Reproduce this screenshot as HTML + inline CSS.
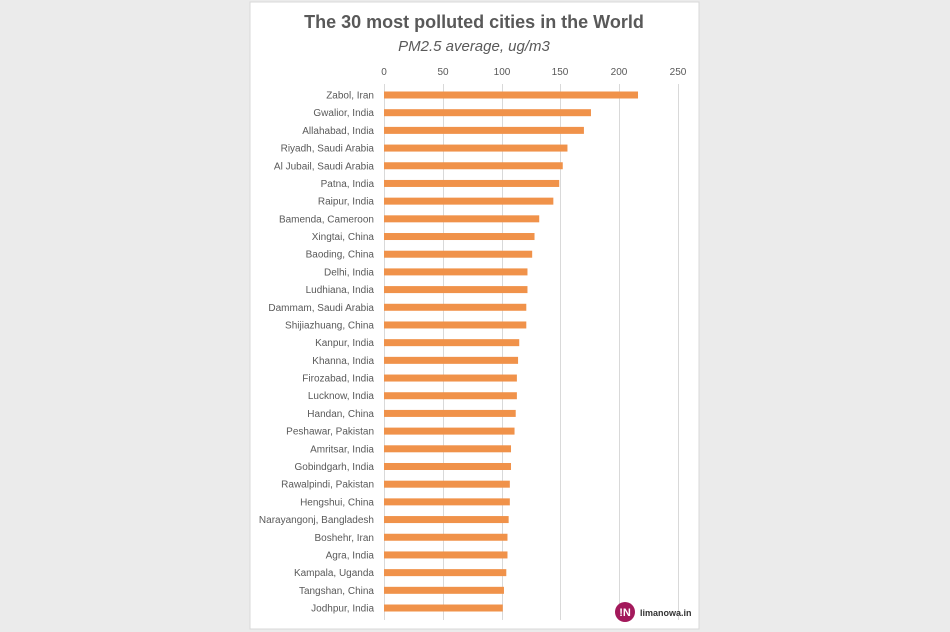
<!DOCTYPE html>
<html><head><style>
html,body{margin:0;padding:0;background:#ebebeb;width:950px;height:632px;overflow:hidden;font-family:"Liberation Sans",sans-serif}
</style></head><body>
<svg width="950" height="632" xmlns="http://www.w3.org/2000/svg" style="position:absolute;left:0;top:0">
<rect x="0" y="0" width="950" height="632" fill="#ebebeb"/>
<rect x="250" y="2" width="449" height="627" fill="#fff" stroke="#d8d8d8"/>
<text x="474" y="28" text-anchor="middle" font-size="18" font-weight="bold" fill="#595959">The 30 most polluted cities in the World</text>
<text x="474" y="51" text-anchor="middle" font-size="15" font-style="italic" fill="#595959">PM2.5 average, ug/m3</text>
<g stroke="#d9d9d9" stroke-width="1">
<line x1="384.5" y1="84" x2="384.5" y2="620"/><line x1="443.5" y1="84" x2="443.5" y2="620"/><line x1="502.5" y1="84" x2="502.5" y2="620"/><line x1="560.5" y1="84" x2="560.5" y2="620"/><line x1="619.5" y1="84" x2="619.5" y2="620"/><line x1="678.5" y1="84" x2="678.5" y2="620"/>
</g>
<g font-size="10" fill="#595959" text-anchor="middle">
<text x="384" y="75">0</text><text x="443" y="75">50</text><text x="502" y="75">100</text><text x="560" y="75">150</text><text x="619" y="75">200</text><text x="678" y="75">250</text>
</g>
<g id="bars" fill="#f0924a"></g>
<g id="labels" font-size="10" fill="#595959" text-anchor="end"></g>
<circle cx="625" cy="612" r="10" fill="#a3195b"/>
<text x="625" y="616" text-anchor="middle" font-size="11" font-weight="bold" fill="#fff">!N</text>
<text x="640" y="616" font-size="9" font-weight="bold" fill="#333">limanowa.in</text>
</svg>
<script>
var d=[["Zabol, Iran",216],["Gwalior, India",176],["Allahabad, India",170],["Riyadh, Saudi Arabia",156],["Al Jubail, Saudi Arabia",152],["Patna, India",149],["Raipur, India",144],["Bamenda, Cameroon",132],["Xingtai, China",128],["Baoding, China",126],["Delhi, India",122],["Ludhiana, India",122],["Dammam, Saudi Arabia",121],["Shijiazhuang, China",121],["Kanpur, India",115],["Khanna, India",114],["Firozabad, India",113],["Lucknow, India",113],["Handan, China",112],["Peshawar, Pakistan",111],["Amritsar, India",108],["Gobindgarh, India",108],["Rawalpindi, Pakistan",107],["Hengshui, China",107],["Narayangonj, Bangladesh",106],["Boshehr, Iran",105],["Agra, India",105],["Kampala, Uganda",104],["Tangshan, China",102],["Jodhpur, India",101]];
var ns="http://www.w3.org/2000/svg",b=document.getElementById("bars"),l=document.getElementById("labels");
d.forEach(function(r,i){var cy=95+i*17.69;
var e=document.createElementNS(ns,"rect");e.setAttribute("x",384);e.setAttribute("y",cy-3.5);e.setAttribute("width",r[1]*294/250);e.setAttribute("height",7);b.appendChild(e);
var t=document.createElementNS(ns,"text");t.setAttribute("x",374);t.setAttribute("y",cy+3.5);t.textContent=r[0];l.appendChild(t);});
</script>
</body></html>
